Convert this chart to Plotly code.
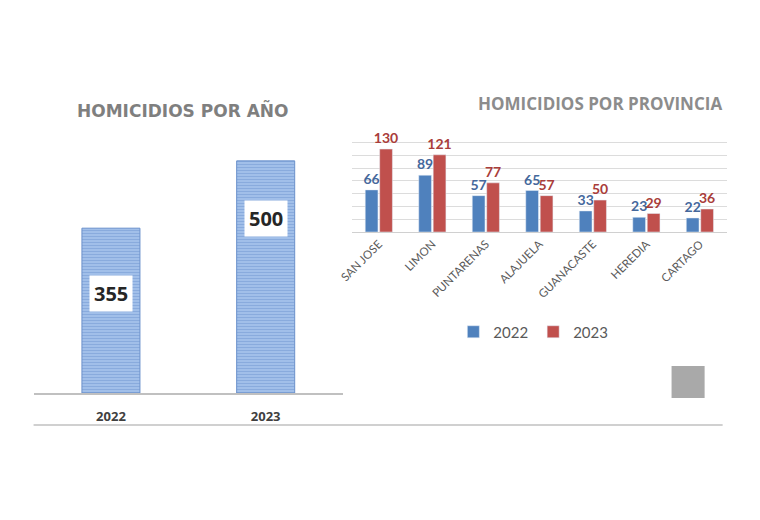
import plotly.graph_objects as go

# ---- data ----
years = ["2022", "2023"]
year_totals = [355, 500]

provinces = ["SAN JOSE", "LIMON", "PUNTARENAS", "ALAJUELA", "GUANACASTE", "HEREDIA", "CARTAGO"]
prov_2022 = [66, 89, 57, 65, 33, 23, 22]
prov_2023 = [130, 121, 77, 57, 50, 29, 36]

W, H = 744, 504
OFF = 8
# horizontal calibration of the photographed page
SX, BX = 0.981, 13.6
def px(x):
    return ((x - BX) / SX - OFF) / W
def py(y):
    return 1 - (y - OFF) / H

BLUE = "#4f81bd"
RED = "#c0504d"
GRAY = "#7f7f7f"

fig = go.Figure()

fig.add_trace(go.Bar(
    x=years, y=year_totals, width=0.375,
    marker=dict(color="#94b4e2",
                line=dict(color="#6a90cb", width=1),
                pattern=dict(shape="-", size=3, solidity=0.4,
                             fgcolor="#6f95d0", bgcolor="#a3c1ea")),
    xaxis="x", yaxis="y", showlegend=False, hoverinfo="x+y",
))

fig.add_trace(go.Bar(
    x=provinces, y=prov_2022, name="2022", marker_color=BLUE,
    text=prov_2022, textposition="outside", cliponaxis=False,
    textfont=dict(family="Lato", size=14, color="#45689c", weight="bold"),
    xaxis="x2", yaxis="y2",
))
fig.add_trace(go.Bar(
    x=provinces, y=prov_2023, name="2023", marker_color=RED,
    text=prov_2023, textposition="outside", cliponaxis=False,
    textfont=dict(family="Lato", size=14, color="#a93d3a", weight="bold"),
    xaxis="x2", yaxis="y2",
))

for i, v in enumerate(year_totals):
    fig.add_annotation(
        x=i, y=1.11 * v - 180, xref="x", yref="y", text=str(v), showarrow=False,
        font=dict(family="Open Sans", size=20, color="#262626", weight="bold"),
        bgcolor="white", borderpad=4,
    )

fig.add_annotation(x=px(183), y=py(110), xref="paper", yref="paper",
                   xanchor="center", yanchor="middle",
                   text="HOMICIDIOS POR AÑO", showarrow=False,
                   font=dict(family="DejaVu Sans", size=17, color=GRAY, weight="bold"))
fig.add_annotation(x=px(600), y=py(103), xref="paper", yref="paper",
                   xanchor="center", yanchor="middle",
                   text="HOMICIDIOS POR PROVINCIA", showarrow=False,
                   font=dict(family="Open Sans", size=17, color="#8c8c8c", weight="bold"))

fig.add_shape(type="line", xref="paper", yref="paper",
              x0=px(34), x1=px(722), y0=py(425), y1=py(425),
              line=dict(color="#d0d0d0", width=2))
fig.add_shape(type="rect", xref="paper", yref="paper",
              x0=px(671), x1=px(704), y0=py(366), y1=py(398),
              fillcolor="#9a9a9a", line=dict(width=0), opacity=0.85)

fig.update_layout(
    width=W, height=H,
    margin=dict(l=0, r=0, t=0, b=0),
    paper_bgcolor="white", plot_bgcolor="white",
    barmode="group", bargap=0.46, bargroupgap=0.12,
    uniformtext=dict(minsize=14, mode="show"),
    xaxis=dict(domain=[px(34), px(343)], type="category", range=[-0.5, 1.5],
               showline=True, linecolor="#c0c0c0", linewidth=2,
               ticks="", ticklabelstandoff=10,
               tickfont=dict(family="Open Sans", size=13, color="#404040", weight="bold"),
               fixedrange=True),
    yaxis=dict(domain=[py(393), py(133)], range=[0, 560], showgrid=False,
               showticklabels=False, zeroline=False, fixedrange=True),
    xaxis2=dict(domain=[px(352), px(726)], anchor="y2", type="category", showline=True,
                linecolor="#d0d0d0", linewidth=1, ticks="", tickangle=-45,
                tickfont=dict(family="Lato", size=11.5, color="#595959"),
                fixedrange=True),
    yaxis2=dict(domain=[py(232), py(141.4)], range=[0, 142], anchor="x2",
                dtick=20, showgrid=True, gridcolor="#dcdcdc", gridwidth=1,
                showticklabels=False, zeroline=False, fixedrange=True),
    legend=dict(orientation="h", x=px(533), xanchor="center", y=py(332), yanchor="middle",
                font=dict(family="Lato", size=15, color="#595959"),
                itemwidth=30, traceorder="normal"),
    showlegend=True,
)

fig.write_html("out.html")
